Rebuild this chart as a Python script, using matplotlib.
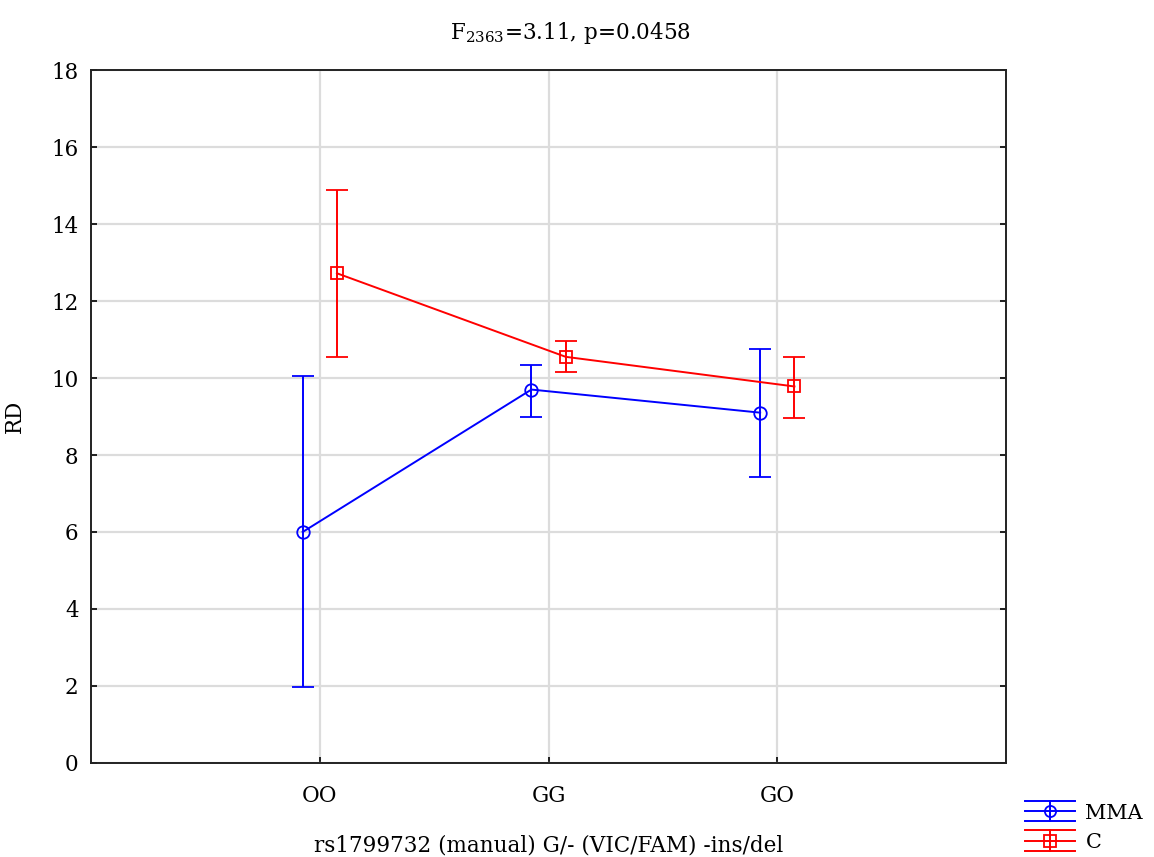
import matplotlib
matplotlib.use('Agg')
import matplotlib.pyplot as plt
from matplotlib.legend_handler import HandlerBase
from matplotlib.lines import Line2D
import numpy as np

plt.rcParams['font.family'] = ['DejaVu Serif']
plt.rcParams['mathtext.fontset'] = 'dejavuserif'

# genotype groups along x
genotypes = ['OO', 'GG', 'GO']

# MMA group: mean and CI bounds
mma_mean = [6.0, 9.7, 9.1]
mma_low = [1.97, 9.0, 7.42]
mma_high = [10.05, 10.35, 10.75]

# control group
c_mean = [12.72, 10.55, 9.78]
c_low = [10.55, 10.15, 8.95]
c_high = [14.88, 10.95, 10.55]


class ErrLegend(HandlerBase):
    # statistica-style legend key: three full-width bars + vertical + marker
    def create_artists(self, legend, orig_handle, xdescent, ydescent,
                       width, height, fontsize, trans):
        col, mk = orig_handle
        x0, x1 = -xdescent, -xdescent + width
        yc = height / 2 - ydescent
        d = height * 0.7
        arts = []
        for yy in (yc - d, yc, yc + d):
            arts.append(Line2D([x0, x1], [yy, yy], color=col, lw=1.4))
        arts.append(Line2D([(x0 + x1) / 2] * 2, [yc - d, yc + d], color=col, lw=1.4))
        arts.append(Line2D([(x0 + x1) / 2], [yc], marker=mk, ms=8, mfc='none',
                           mec=col, mew=1.3, ls='none'))
        for a in arts:
            a.set_transform(trans)
        return arts


fig = plt.figure(figsize=(11.54, 8.57), dpi=100)
ax = fig.add_axes([0.0789, 0.1097, 0.7929, 0.8086])

x = np.arange(len(genotypes))
shift = 0.075

mma_m = np.array(mma_mean)
c_m = np.array(c_mean)
mma_err = [mma_m - np.array(mma_low), np.array(mma_high) - mma_m]
c_err = [c_m - np.array(c_low), np.array(c_high) - c_m]

ax.errorbar(x - shift, mma_m, yerr=mma_err, color='#0000ff', lw=1.4,
            marker='o', ms=9, mfc='none', mew=1.3, capsize=8,
            capthick=1.4, elinewidth=1.4)
ax.errorbar(x + shift, c_m, yerr=c_err, color='#ff0000', lw=1.4,
            marker='s', ms=9, mfc='none', mew=1.3, capsize=8,
            capthick=1.4, elinewidth=1.4)

ax.set_xlim(-1, 3)
ax.set_ylim(0, 18)
ax.set_xticks(x)
ax.set_xticklabels(genotypes)
ax.set_yticks(np.arange(0, 19, 2))
ax.tick_params(direction='in', length=4, width=1.2, labelsize=15.5,
               right=True, pad=9)
ax.tick_params(axis='x', pad=16)
ax.grid(True, color='#dcdcdc', lw=1.6)
ax.set_axisbelow(True)
for s in ax.spines.values():
    s.set_linewidth(1.4)
    s.set_color('#222222')

fig.text(0.494, 0.962, 'F$_\\mathregular{2363}$=3.11, p=0.0458', fontsize=15.5,
         ha='center', va='center')
ax.set_xlabel('rs1799732 (manual) G/- (VIC/FAM) -ins/del', fontsize=15.5,
              labelpad=20)
ax.set_ylabel('RD', fontsize=15.5, labelpad=18)

keys = [('#0000ff', 'o'), ('#ff0000', 's')]
fig.legend(keys, ['MMA', 'C'], handler_map={tuple: ErrLegend()},
           loc='lower left', bbox_to_anchor=(0.872, -0.016),
           frameon=False, fontsize=15, handlelength=2.4, labelspacing=0.5,
           handletextpad=0.5)

fig.savefig('out.png', dpi=100)
